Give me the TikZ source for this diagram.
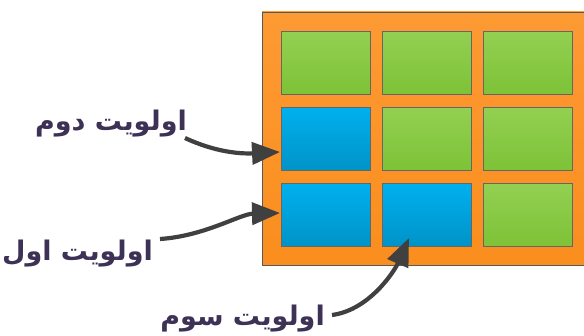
\documentclass[tikz,border=0pt]{standalone}
\usepackage{fontspec}
\newfontfamily\arabicfont[Script=Arabic]{DejaVu Sans}
\TeXXeTstate=1
\usetikzlibrary{arrows.meta}
\definecolor{framefill}{HTML}{FA8E1E}
\definecolor{frametop}{HTML}{FD9A33}
\definecolor{greentop}{HTML}{93D052}
\definecolor{greenbot}{HTML}{7DC237}
\definecolor{bluetop}{HTML}{00B0EE}
\definecolor{bluebot}{HTML}{0093C8}
\definecolor{labelcol}{HTML}{3D3256}
\definecolor{arrowcol}{HTML}{404040}
\begin{document}
\begin{tikzpicture}[x=1pt,y=-1pt,
  cellbox/.style={draw=black!60, line width=0.8pt, minimum width=89pt, minimum height=63pt, inner sep=0pt, anchor=north west},
  greencell/.style={cellbox, top color=greentop, bottom color=greenbot},
  bluecell/.style={cellbox, top color=bluetop, bottom color=bluebot},
  prio/.style={text=labelcol, font=\arabicfont\bfseries\fontsize{27}{30}\selectfont, inner sep=0pt, anchor=east},
  pointer/.style={draw=arrowcol, line width=4.2pt, -{Triangle[length=28pt,width=22pt]}}]
\useasboundingbox (0,0) rectangle (584,336);
% frame
\path[top color=frametop, bottom color=framefill, draw=black!65, line width=0.8pt] (262,12) rectangle (586,265);
% grid of cells
\node[greencell] (c11) at (281,31) {};
\node[greencell] (c12) at (382,31) {};
\node[greencell] (c13) at (483,31) {};
\node[bluecell]  (c21) at (281,107) {};
\node[greencell] (c22) at (382,107) {};
\node[greencell] (c23) at (483,107) {};
\node[bluecell]  (c31) at (281,183) {};
\node[bluecell]  (c32) at (382,183) {};
\node[greencell] (c33) at (483,183) {};
% labels
\node[prio] (l2) at (187,124) {\beginR اولویت دوم\endR};
\node[prio] (l1) at (153,254) {\beginR اولویت اول\endR};
\node[prio] (l3) at (325,319) {\beginR اولویت سوم\endR};
% pointers
\coordinate (t2) at (280,152);
\coordinate (t1) at (280,213);
\coordinate (t3) at (409,238);
\draw[pointer] ([xshift=-2pt,yshift=-14pt]l2.east) .. controls (215,152) and (240,154) .. (t2);
\draw[pointer] ([xshift=7pt,yshift=15pt]l1.east) .. controls (205,236) and (240,214) .. (t1);
\draw[pointer] ([xshift=7pt,yshift=4pt]l3.east) .. controls (370,310) and (395,270) .. (t3);
\end{tikzpicture}
\end{document}
